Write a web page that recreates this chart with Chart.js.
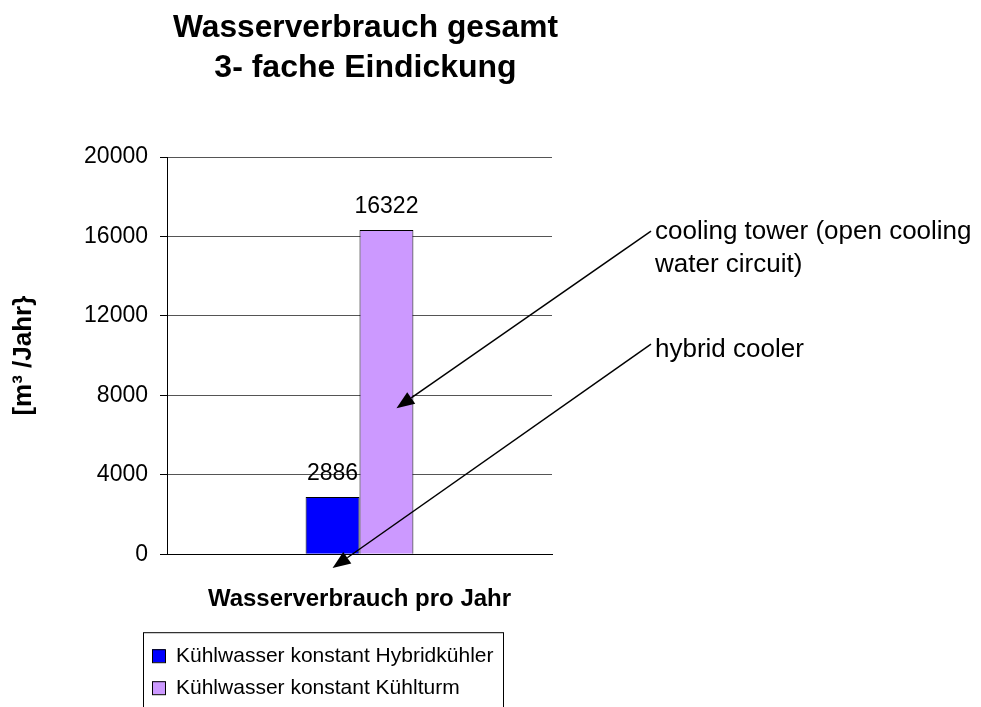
<!DOCTYPE html>
<html>
<head>
<meta charset="utf-8">
<title>Wasserverbrauch gesamt</title>
<script src="https://cdn.jsdelivr.net/npm/chart.js@4.4.1/dist/chart.umd.min.js"></script>
<style>
  html, body { margin: 0; padding: 0; background: #fff; }
  #myChart { display: block; }
</style>
</head>
<body>
<canvas id="myChart" width="981" height="707"></canvas>
<script>
// data
var categories = [''];
var seriesNames = ['Kühlwasser konstant Hybridkühler', 'Kühlwasser konstant Kühlturm'];
var hybridValues = [2886];
var towerValues = [16322];
var yTicks = [0, 4000, 8000, 12000, 16000, 20000];

var titleLines = ['Wasserverbrauch gesamt', '3- fache Eindickung'];
var xTitle = 'Wasserverbrauch pro Jahr';
var yTitle = '[m³ /Jahr}';

// callouts: text lines, dataset the arrow points into, value where the tip sits
var noteTexts = [['cooling tower (open cooling', 'water circuit)'], ['hybrid cooler']];
var noteTargets = [1, 0];
var noteTipValues = [7350, -700];
var noteTextValues = [15870, 9920];

var FONT = "'Liberation Sans', Arial, sans-serif";

function init() {
  Chart.defaults.font.family = FONT;
  Chart.defaults.color = '#000';
  printChart();
}

// nudge the title a little to the right, like the original
var titleShift = {
  id: 'titleShift',
  afterLayout: function (chart) {
    if (chart.titleBlock) {
      chart.titleBlock.left += 6;
      chart.titleBlock.right += 6;
    }
  }
};

// value labels on top of the bars
var valueLabels = {
  id: 'valueLabels',
  afterDatasetsDraw: function (chart) {
    var ctx = chart.ctx;
    ctx.save();
    ctx.font = '23px ' + FONT;
    ctx.fillStyle = '#000';
    ctx.textAlign = 'center';
    ctx.textBaseline = 'alphabetic';
    chart.data.datasets.forEach(function (ds, i) {
      chart.getDatasetMeta(i).data.forEach(function (bar, j) {
        ctx.fillText(String(ds.data[j]), bar.x, bar.y - 17);
      });
    });
    ctx.restore();
  }
};

// boxed legend under the axis title
var boxLegend = {
  id: 'boxLegend',
  afterDraw: function (chart) {
    var ctx = chart.ctx;
    var area = chart.chartArea;
    var left = area.left - 24;
    var top = area.bottom + 78;
    ctx.save();
    ctx.strokeStyle = '#000';
    ctx.lineWidth = 1;
    ctx.strokeRect(left + 0.5, top + 0.5, 360, 120);
    ctx.font = '21px ' + FONT;
    ctx.textBaseline = 'alphabetic';
    ctx.textAlign = 'left';
    chart.data.datasets.forEach(function (ds, i) {
      var base = top + 30 + i * 32;
      ctx.fillStyle = ds.backgroundColor;
      ctx.fillRect(left + 9, base - 13, 13, 13);
      ctx.strokeStyle = '#000';
      ctx.strokeRect(left + 9.5, base - 12.5, 13, 13);
      ctx.fillStyle = '#000';
      ctx.fillText(ds.label, left + 33, base);
    });
    ctx.restore();
  }
};

// callout texts with arrows pointing at the bars
var callouts = {
  id: 'callouts',
  afterDraw: function (chart) {
    var ctx = chart.ctx;
    var area = chart.chartArea;
    var y = chart.scales.y;
    ctx.save();
    ctx.font = '26px ' + FONT;
    ctx.fillStyle = '#000';
    ctx.strokeStyle = '#000';
    ctx.lineWidth = 1.5;
    ctx.textAlign = 'left';
    ctx.textBaseline = 'alphabetic';
    noteTexts.forEach(function (lines, n) {
      var tx = area.right + 103;
      var ty = y.getPixelForValue(noteTextValues[n]);
      lines.forEach(function (line, k) {
        ctx.fillText(line, tx, ty + k * 33);
      });
      var bar = chart.getDatasetMeta(noteTargets[n]).data[0];
      var x0 = tx - 4, y0 = ty - (n === 0 ? 8 : 13);
      var x1 = bar.x + (n === 0 ? 10 : 0), y1 = y.getPixelForValue(noteTipValues[n]);
      var ang = Math.atan2(y1 - y0, x1 - x0);
      var len = 18, half = 7;
      var bx = x1 - len * Math.cos(ang), by = y1 - len * Math.sin(ang);
      ctx.beginPath();
      ctx.moveTo(x0, y0);
      ctx.lineTo(bx, by);
      ctx.stroke();
      ctx.beginPath();
      ctx.moveTo(x1, y1);
      ctx.lineTo(bx + half * Math.sin(ang), by - half * Math.cos(ang));
      ctx.lineTo(bx - half * Math.sin(ang), by + half * Math.cos(ang));
      ctx.closePath();
      ctx.fill();
    });
    ctx.restore();
  }
};

function printChart() {
  var ctx = document.getElementById('myChart').getContext('2d');
  var chart = new Chart(ctx, {
    type: 'bar',
    data: {
      labels: categories,
      datasets: [{
        label: seriesNames[0],
        data: hybridValues,
        backgroundColor: '#0000FF',
        borderColor: '#000',
        borderWidth: 1,
        categoryPercentage: 0.28,
        barPercentage: 1
      }, {
        label: seriesNames[1],
        data: towerValues,
        backgroundColor: '#CC99FF',
        borderColor: '#000',
        borderWidth: 1,
        categoryPercentage: 0.28,
        barPercentage: 1
      }]
    },
    options: {
      responsive: false,
      animation: false,
      layout: { padding: { top: 0, left: 0, right: 429, bottom: 93 } },
      plugins: {
        legend: { display: false },
        tooltip: { enabled: false },
        title: {
          display: true,
          fullSize: false,
          text: titleLines,
          color: '#000',
          font: { size: 32, weight: 'bold', lineHeight: 1.25 },
          padding: { top: 8, bottom: 69 }
        }
      },
      scales: {
        x: {
          grid: { display: false, drawTicks: false },
          border: { display: true, color: '#000', width: 1 },
          ticks: { display: false },
          title: {
            display: true,
            text: xTitle,
            color: '#000',
            font: { size: 24, weight: 'bold', lineHeight: 1.2 },
            padding: { top: 31, bottom: 0 }
          }
        },
        y: {
          min: yTicks[0],
          max: yTicks[yTicks.length - 1],
          afterFit: function (scale) { scale.width = 167; },
          afterBuildTicks: function (scale) {
            scale.ticks = yTicks.map(function (v) { return { value: v }; });
          },
          grid: { color: '#555', tickColor: '#000', tickLength: 7, lineWidth: 1 },
          border: { display: true, color: '#000', width: 1 },
          ticks: {
            color: '#000',
            padding: 12,
            font: { size: 23 },
            callback: function (value) { return String(value); }
          },
          title: {
            display: true,
            text: yTitle,
            color: '#000',
            font: { size: 26, weight: 'bold', lineHeight: 1.2 },
            padding: { top: 8, bottom: 0 }
          }
        }
      }
    },
    plugins: [titleShift, valueLabels, boxLegend, callouts]
  });
}

init();
</script>
</body>
</html>
